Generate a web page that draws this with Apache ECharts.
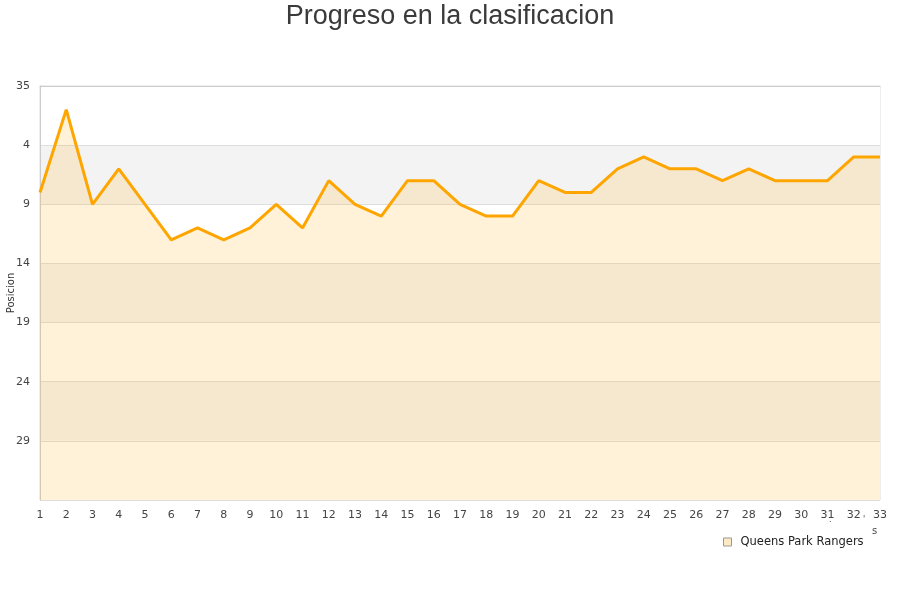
<!DOCTYPE html>
<html><head><meta charset="utf-8">
<script src="https://cdn.jsdelivr.net/npm/echarts@6/dist/echarts.min.js"></script>
<style>html,body{margin:0;padding:0;background:#fff}#c{width:900px;height:600px}</style>
</head><body><div id="c"></div>
<script>
var rounds = [];
for (var i = 1; i <= 33; i++) rounds.push(String(i));
var positions = [8,1,9,6,9,12,11,12,11,9,11,7,9,10,7,7,9,10,10,7,8,8,6,5,6,6,7,6,7,7,7,5,5];
var yTickLabels = ["35","4","9","14","19","24","29",""];
var teamName = "Queens Park Rangers";

var chart = echarts.init(document.getElementById('c'));
chart.setOption({
  animation: false,
  backgroundColor: '#fff',
  title: {
    text: 'Progreso en la clasificacion', left: 'center', top: -2,
    textStyle: {fontFamily: 'Liberation Sans', fontSize: 27, fontWeight: 'normal', color: '#3a3a3a'}
  },
  legend: {
    data: [{name: teamName, icon: 'rect'}], left: 718, top: 531,
    itemWidth: 8, itemHeight: 8, itemGap: 10,
    textStyle: {fontFamily: 'DejaVu Sans', fontSize: 11.5, color: '#222', padding: [0, 0, 0, 4]},
    itemStyle: {color: '#fde9c4', borderColor: '#999', borderWidth: 1}
  },
  grid: {left: 40, right: 20, top: 86, bottom: 100, show: true, borderColor: '#dcdcdc', borderWidth: 1,
    containLabel: false, outerBoundsMode: 'none'},
  xAxis: {
    type: 'category', data: rounds, boundaryGap: false,
    axisLine: {lineStyle: {color: '#cccccc'}}, axisTick: {show: false},
    axisLabel: {fontFamily: 'DejaVu Sans', fontSize: 11, color: '#444', margin: 10, interval: 0},
    splitLine: {show: false}
  },
  yAxis: {
    type: 'value', inverse: true, min: 0, max: 35, interval: 5,
    name: 'Posicion', nameLocation: 'middle', nameGap: 24, nameRotate: 90, nameMoveOverlap: false,
    nameTextStyle: {fontFamily: 'DejaVu Sans', fontSize: 10, color: '#333'},
    axisLine: {show: true, lineStyle: {color: '#cccccc'}}, axisTick: {show: false},
    axisLabel: {fontFamily: 'DejaVu Sans', fontSize: 11, color: '#444', margin: 10,
      formatter: function (v) { return yTickLabels[Math.round(v / 5)] || ''; }},
    splitLine: {show: true, lineStyle: {color: '#dedede', width: 1}},
    splitArea: {show: true, areaStyle: {color: ['#ffffff', '#f3f3f3']}}
  },
  graphic: [
    {type: 'text', left: 872, top: 526, style: {text: 's', font: '10px DejaVu Sans', fill: '#444'}},
    {type: 'text', left: 829, top: 516, style: {text: '.', font: '8px DejaVu Sans', fill: '#444'}},
    {type: 'text', left: 863, top: 516, style: {text: "'", font: '8px DejaVu Sans', fill: '#444'}}
  ],
  series: [{
    name: teamName, type: 'line', data: positions.map(function (p) { return p + 1; }),
    showSymbol: false, symbol: 'none',
    lineStyle: {color: '#ffa500', width: 3},
    itemStyle: {color: '#fde9c4'},
    areaStyle: {color: 'rgba(255,180,40,0.25)', origin: 'end'}
  }]
});
</script></body></html>
